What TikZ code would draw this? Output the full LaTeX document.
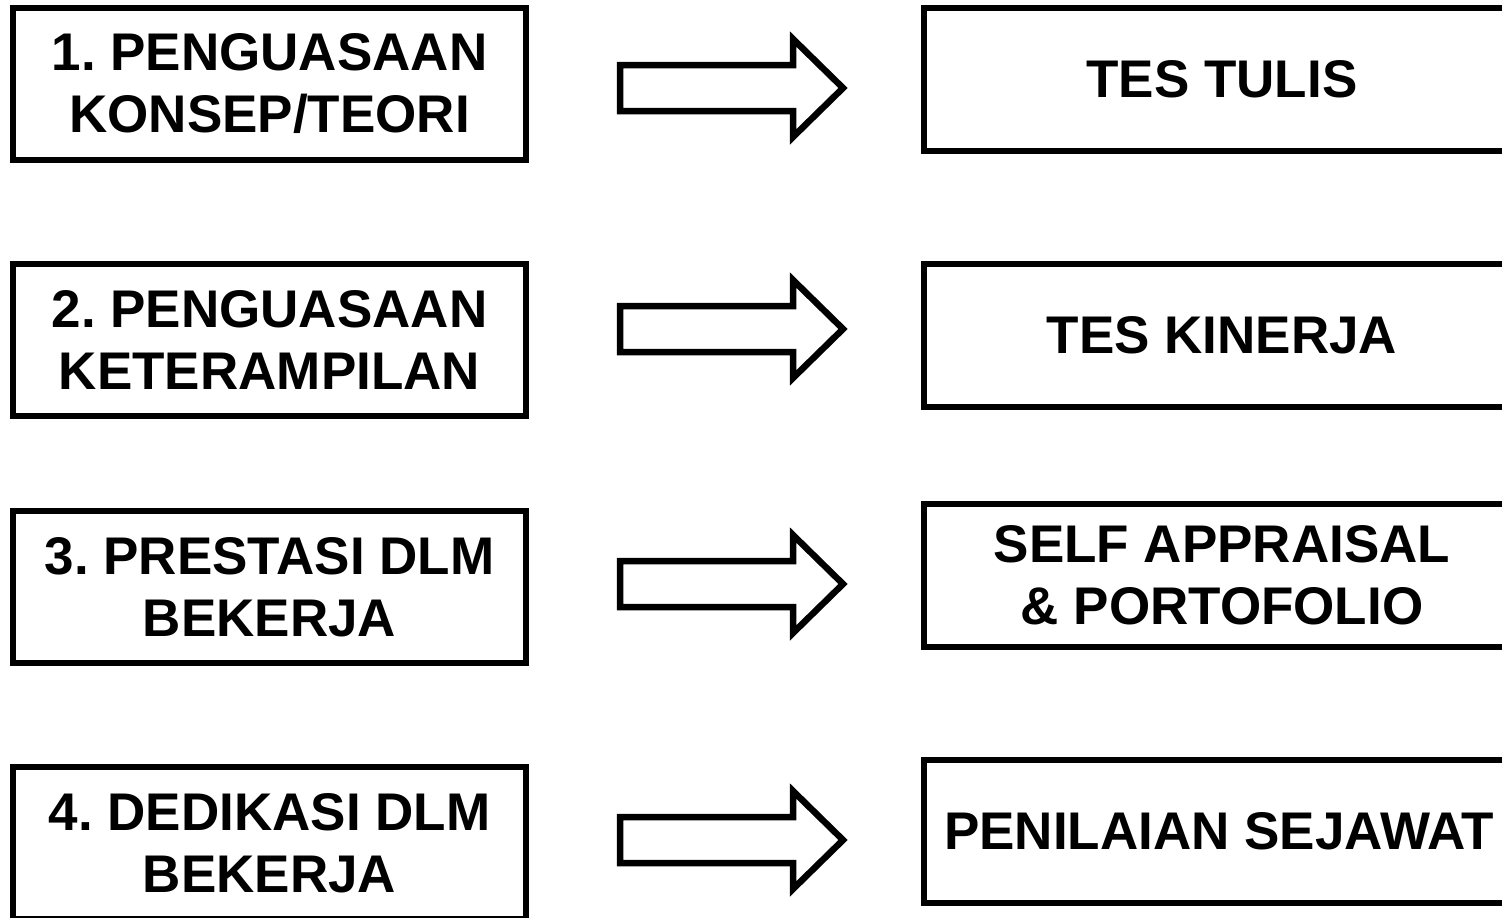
\documentclass[tikz,border=0pt]{standalone}
\usepackage{fontspec}
\setmainfont{Liberation Sans}
\begin{document}
\frenchspacing
\begin{tikzpicture}[x=1pt,y=-1pt,
  lbox/.style={draw=black,line width=6pt,fill=white,minimum width=513pt,minimum height=152pt,inner sep=0pt,align=center,
    font=\fontsize{53}{62}\selectfont\bfseries},
  rbox/.style={draw=black,line width=6pt,fill=white,minimum width=596pt,minimum height=143pt,inner sep=0pt,align=center,
    font=\fontsize{53}{62}\selectfont\bfseries},
  blockarrow/.style={draw=black,line width=6.5pt,fill=white,line join=miter}]
\useasboundingbox (0,0) rectangle (1502,918);
\clip (0,0) rectangle (1502,918);
\fill[white] (0,0) rectangle (1502,918);
% left boxes
\node[lbox] (l1) at (269.5,84) {1. PENGUASAAN\\KONSEP/TEORI};
\node[lbox] (l2) at (269.5,340) {2. PENGUASAAN\\KETERAMPILAN};
\node[lbox] (l3) at (269.5,587) {3. PRESTASI DLM\\BEKERJA};
\node[lbox] (l4) at (269.5,843) {4. DEDIKASI DLM\\BEKERJA};
% right boxes
\node[rbox] (r1) at (1222,79.5) {TES TULIS};
\node[rbox] (r2) at (1222,335.5) {TES KINERJA};
\node[rbox] (r3) at (1222,575.5) {SELF APPRAISAL\\\& PORTOFOLIO};
\node[rbox,minimum width=590pt] (r4) at (1219,831.5) {PENILAIAN SEJAWAT};
% block arrows
\foreach \cy in {88,329,584,840}{
  \draw[blockarrow,shift={(0,\cy)}] (620,-23) -- (793,-23) -- (793,-49) -- (843,0)
    -- (793,49) -- (793,23) -- (620,23) -- cycle;
}
\end{tikzpicture}
\end{document}
